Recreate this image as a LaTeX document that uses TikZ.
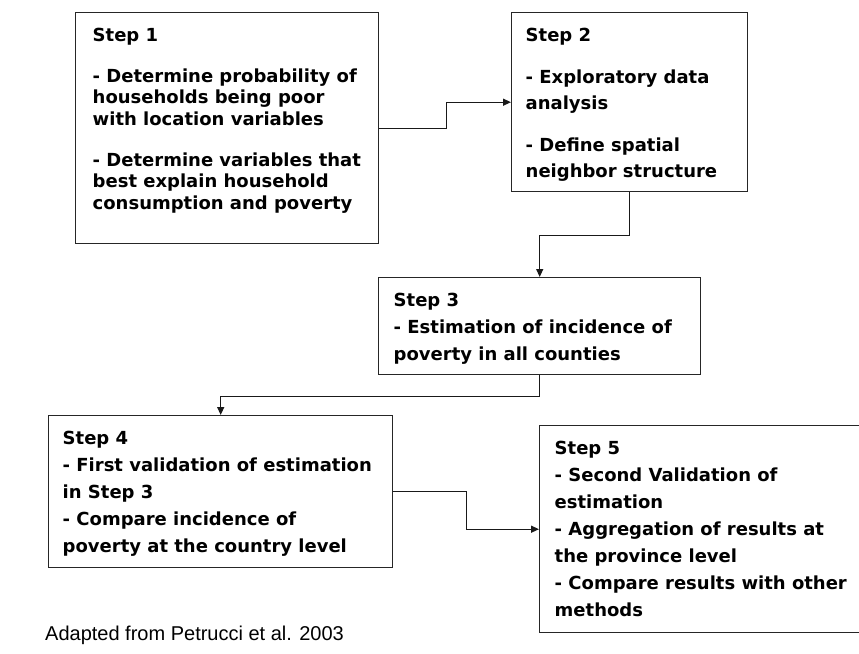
\documentclass[tikz,border=0pt]{standalone}
\usepackage{fontspec}
\setsansfont{DejaVu Sans}
\newfontfamily\notefont{Liberation Sans}
\usetikzlibrary{arrows.meta}

\begin{document}
\begin{tikzpicture}[
  x=1pt, y=-1pt,
  stepbox/.style={draw=black!85, line width=1.4pt, anchor=north west, inner xsep=0pt, inner ysep=15pt, font=\sffamily\bfseries\fontsize{18}{27}\selectfont},
  link/.style={line width=1.3pt, draw=black!90, -{Triangle[length=8pt, width=7pt]}},
  note/.style={font=\notefont\fontsize{20}{24}\selectfont, inner sep=0pt, anchor=base west}
]
  \useasboundingbox (0,0) rectangle (859,653);

  % Cajas
  \node[stepbox] (s1) at (75,12) {\parbox[t][201pt][t]{303pt}{\raggedright\leftskip=17pt\fontsize{18}{21.5}\selectfont
    Step 1\\[19.5pt]
    - Determine probability of\\
    households being poor\\
    with location variables\\[19.5pt]
    - Determine variables that\\
    best explain household\\
    consumption and poverty}};
  \node[stepbox] (s2) at (511,12) {\parbox[t][149pt][t]{236pt}{\raggedright\leftskip=14pt\fontsize{18}{26}\selectfont
    Step 2\\[16pt]
    - Exploratory data\\
    analysis\\[16pt]
    - Define spatial\\
    neighbor structure}};
  \node[stepbox] (s3) at (378,277) {\parbox[t][67pt][t]{322pt}{\raggedright\leftskip=15pt
    Step 3\\
    - Estimation of incidence of\\
    poverty in all counties}};
  \node[stepbox] (s4) at (48,415) {\parbox[t][122pt][t]{344pt}{\raggedright\leftskip=14pt
    Step 4\\
    - First validation of estimation\\
    in Step 3\\
    - Compare incidence of\\
    poverty at the country level}};
  \node[stepbox] (s5) at (539,425) {\parbox[t][177pt][t]{325pt}{\raggedright\leftskip=15pt
    Step 5\\
    - Second Validation of\\
    estimation\\
    - Aggregation of results at\\
    the province level\\
    - Compare results with other\\
    methods}};

  % Flechas
  \draw[link] (s1.east) -- ++(67,0) |- (s2.west);
  \draw[link] (s2.south) -- ++(0,43) -| (s3.north);
  \draw[link] (s3.south) -- ++(0,21) -| (s4.north);
  \draw[link] (s4.east) -- ++(73,0) |- (s5.west);

  % Fuente
  \node[note] (src) at (45,640) {Adapted from Petrucci et al. 2003};
\end{tikzpicture}
\end{document}
